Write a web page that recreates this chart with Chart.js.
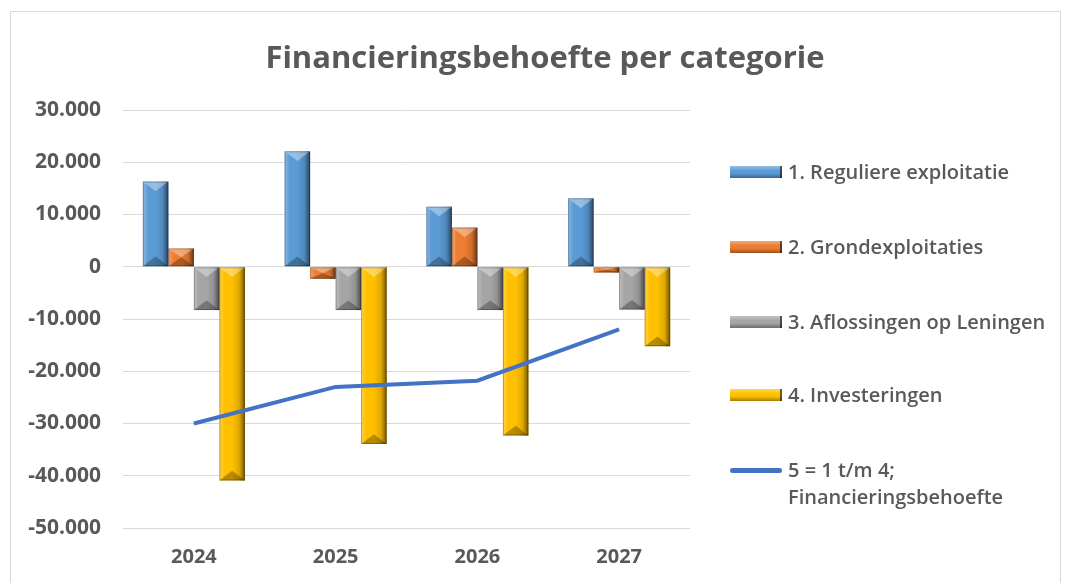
<!DOCTYPE html>
<html lang="nl">
<head>
<meta charset="utf-8">
<script src="https://cdn.jsdelivr.net/npm/chart.js@4.4.1/dist/chart.umd.min.js"></script>
<style>
  html, body { margin: 0; padding: 0; background: #fff; }
  body { width: 1068px; height: 583px; position: relative; overflow: hidden; font-family: "Open Sans", sans-serif; }
  #frame { position: absolute; left: 10px; top: 11px; width: 1051px; height: 600px; border: 1px solid #d9d9d9; box-sizing: border-box; }
  #wrap { position: absolute; left: 0; top: 0; width: 1068px; height: 583px; }
  #title { position: absolute; left: 245px; width: 600px; top: 35px; text-align: center; color: #595959; font-size: 31px; font-weight: 700; line-height: 42px; white-space: nowrap; }
  #legend { position: absolute; left: 730px; top: 0; width: 330px; }
  .item { position: absolute; left: 0; display: flex; align-items: flex-start; color: #595959; font-size: 20px; font-weight: 600; line-height: 27px; white-space: nowrap; }
  .swatch { width: 52px; height: 12px; margin: 8px 6px 0 0; box-sizing: border-box; border-right: 2px solid rgba(0,0,0,0.55); flex: none; }
  .swatch.line { height: 5px; margin-top: 12px; border: none; border-radius: 3px; }
</style>
</head>
<body>
<div id="frame"></div>
<div id="wrap"><canvas id="chart" width="1068" height="583"></canvas></div>
<div id="title">Financieringsbehoefte per categorie</div>
<div id="legend"></div>
<script>
const years = ['2024', '2025', '2026', '2027'];
const seriesNames = [
  '1. Reguliere exploitatie',
  '2. Grondexploitaties',
  '3. Aflossingen op Leningen',
  '4. Investeringen',
];
const lineName = ['5 = 1 t/m 4;', 'Financieringsbehoefte'];

const reguliere = [16300, 22100, 11500, 13100];
const grondexploitaties = [3500, -2300, 7500, -1100];
const aflossingen = [-8300, -8300, -8300, -8200];
const investeringen = [-40900, -33900, -32300, -15200];
const financieringsbehoefte = [-30000, -23000, -21800, -12000];

const barColors = ['#5b9bd5', '#ed7d31', '#a5a5a5', '#ffc000'];
const lineColor = '#4472c4';
const textColor = '#595959';

const formatNumber = (value) => {
  const sign = value < 0 ? '-' : '';
  const abs = Math.abs(value);
  return sign + String(abs).replace(/\B(?=(\d{3})+(?!\d))/g, '.');
};

// fake Excel bevel on top of each bar
const bevelPlugin = {
  id: 'bevel',
  afterDatasetDraw(chart, args) {
    const meta = args.meta;
    if (meta.type !== 'bar') return;
    const { ctx } = chart;
    ctx.save();
    meta.data.forEach((bar) => {
      const w = bar.width;
      const left = bar.x - w / 2;
      const right = bar.x + w / 2;
      const top = Math.min(bar.y, bar.base);
      const bottom = Math.max(bar.y, bar.base);
      const h = bottom - top;
      if (h < 1) return;
      const d = Math.min(w * 0.38, h / 2);

      const rg = ctx.createLinearGradient(bar.x, 0, right, 0);
      rg.addColorStop(0, 'rgba(0,0,0,0)');
      rg.addColorStop(0.55, 'rgba(0,0,0,0.12)');
      rg.addColorStop(1, 'rgba(0,0,0,0.55)');
      ctx.fillStyle = rg;
      ctx.fillRect(bar.x, top, w / 2, h);

      const lg = ctx.createLinearGradient(left, 0, left + w * 0.2, 0);
      lg.addColorStop(0, 'rgba(255,255,255,0.3)');
      lg.addColorStop(1, 'rgba(255,255,255,0)');
      ctx.fillStyle = lg;
      ctx.fillRect(left, top, w * 0.2, h);

      ctx.fillStyle = 'rgba(255,255,255,0.35)';
      ctx.beginPath();
      ctx.moveTo(left, top);
      ctx.lineTo(right, top);
      ctx.lineTo(bar.x, top + d);
      ctx.closePath();
      ctx.fill();

      ctx.fillStyle = 'rgba(0,0,0,0.28)';
      ctx.beginPath();
      ctx.moveTo(left, bottom);
      ctx.lineTo(right, bottom);
      ctx.lineTo(bar.x, bottom - d);
      ctx.closePath();
      ctx.fill();

      ctx.strokeStyle = 'rgba(0,0,0,0.25)';
      ctx.lineWidth = 1;
      ctx.strokeRect(left + 0.5, top + 0.5, w - 1, h - 1);
    });
    ctx.restore();
  },
};

const barSeries = [reguliere, grondexploitaties, aflossingen, investeringen];

const chart = new Chart(document.getElementById('chart'), {
  type: 'bar',
  data: {
    labels: years,
    datasets: [
      {
        type: 'line',
        label: lineName.join(' '),
        data: financieringsbehoefte,
        borderColor: lineColor,
        backgroundColor: lineColor,
        borderWidth: 4,
        pointRadius: 0,
        tension: 0,
        order: 0,
      },
      ...barSeries.map((data, i) => ({
        label: seriesNames[i],
        data,
        backgroundColor: barColors[i],
        borderWidth: 0,
        barPercentage: 1,
        categoryPercentage: 0.72,
        order: 1,
      })),
    ],
  },
  options: {
    responsive: false,
    animation: false,
    layout: { padding: { left: 0, right: 378, top: 110, bottom: 0 } },
    scales: {
      x: {
        grid: { display: false, drawTicks: false },
        border: { display: false },
        ticks: {
          color: textColor,
          padding: 17,
          font: { family: 'Open Sans', size: 20, weight: 'bold' },
        },
        afterFit: (scale) => { scale.height = 55; },
      },
      y: {
        min: -50000,
        max: 30000,
        grid: { color: '#d9d9d9', lineWidth: 1, drawTicks: false },
        border: { display: false },
        ticks: {
          stepSize: 10000,
          color: textColor,
          padding: 22,
          font: { family: 'Open Sans', size: 21, weight: 'bold' },
          callback: (value) => formatNumber(value),
        },
        afterFit: (scale) => { scale.width = 123; },
      },
    },
    plugins: {
      legend: { display: false },
      tooltip: { enabled: false },
    },
  },
  plugins: [bevelPlugin],
});

// html legend, built from the chart's datasets
const legendEl = document.getElementById('legend');
const legendTops = [158, 233, 308, 381, 456];
const legendOrder = [1, 2, 3, 4, 0];
legendOrder.forEach((dsIndex, row) => {
  const ds = chart.data.datasets[dsIndex];
  const item = document.createElement('div');
  item.className = 'item';
  item.style.top = legendTops[row] + 'px';
  const sw = document.createElement('span');
  const text = document.createElement('span');
  if (ds.type === 'line') {
    sw.className = 'swatch line';
    sw.style.background = ds.borderColor;
    text.innerHTML = lineName.join('<br>');
  } else {
    sw.className = 'swatch';
    sw.style.background = `linear-gradient(to bottom, rgba(255,255,255,0.35), ${ds.backgroundColor} 40%, ${ds.backgroundColor} 60%, rgba(0,0,0,0.35)), ${ds.backgroundColor}`;
    text.textContent = ds.label;
  }
  item.appendChild(sw);
  item.appendChild(text);
  legendEl.appendChild(item);
});
</script>
</body>
</html>
